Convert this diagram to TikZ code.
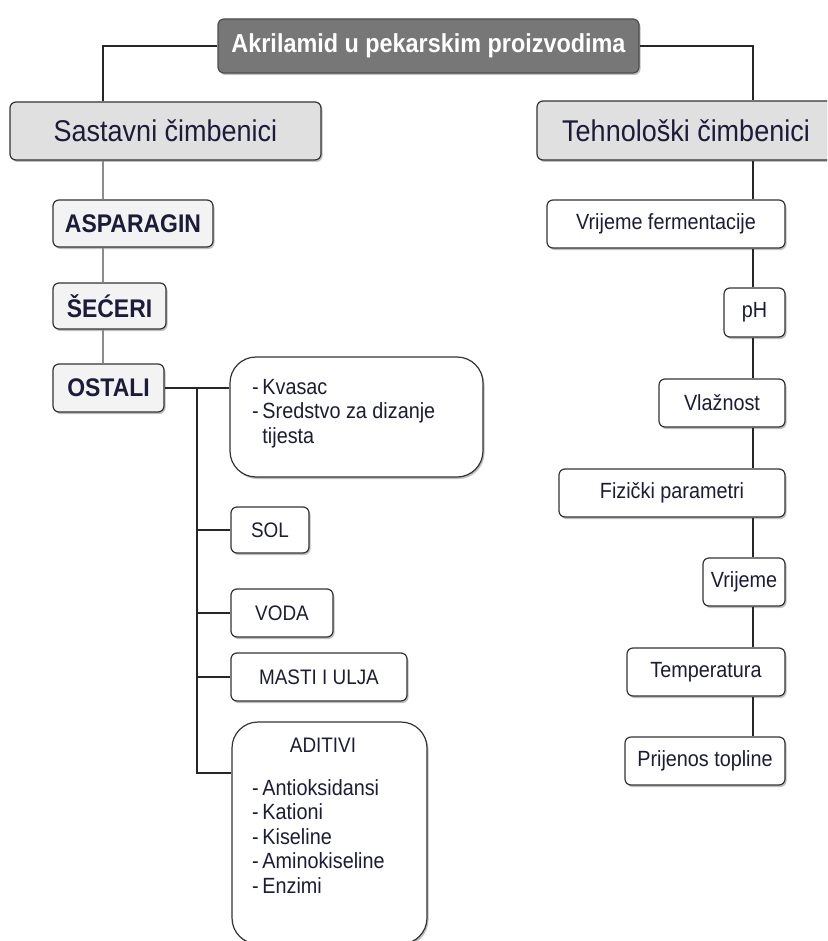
\documentclass[tikz,border=0pt]{standalone}
\usepackage{fontspec}
\setmainfont{Liberation Sans}[FakeStretch=0.9]
\usetikzlibrary{shadows}
\definecolor{txtc}{HTML}{1C1C3A}
\definecolor{titlefill}{HTML}{777777}
\definecolor{lvlfill}{HTML}{E0E0E0}
\definecolor{boldfill}{HTML}{F3F3F3}
\tikzset{
  box/.style={rectangle, rounded corners=6pt, draw=black!80, line width=1.2pt,
    inner sep=0pt, text=txtc, fill=white, align=center,
    drop shadow={shadow xshift=1.5pt, shadow yshift=-2pt, opacity=0.25, fill=black}},
  titlebox/.style={box, fill=titlefill, text=white, draw=black!70,
    font=\fontsize{26}{30}\selectfont\bfseries},
  lvlbox/.style={box, fill=lvlfill, font=\fontsize{30}{34}\selectfont},
  boldbox/.style={box, fill=boldfill, font=\fontsize{25.5}{29}\selectfont\bfseries},
  itembox/.style={box, font=\fontsize{22}{26}\selectfont},
  capbox/.style={box, font=\fontsize{21}{25}\selectfont},
  bigbox/.style={box, rounded corners=26pt},
  listtext/.style={text=txtc, inner sep=0pt, align=left, font=\fontsize{22}{24.5}\selectfont},
  thinline/.style={draw=black!85, line width=1.2pt},
  grayline/.style={draw=black!45, line width=2pt},
  branch/.style={draw=black!85, line width=2pt},
}
\begin{document}
\begin{tikzpicture}[x=1pt, y=-1pt]
\useasboundingbox (0,0) rectangle (827,941);
\clip (0,0) rectangle (827,941);
\fill[white] (0,0) rectangle (827,941);

\coordinate (lx) at (103,0);
\coordinate (tx) at (197,0);
\coordinate (rx) at (753,0);
\coordinate (adb) at (197,773);

% title and first level
\node[titlebox, minimum width=421pt, minimum height=54pt] (title) at (428.5,46) {Akrilamid u pekarskim proizvodima};
\node[lvlbox, minimum width=311pt, minimum height=58pt] (sast) at (165.5,131) {Sastavni čimbenici};
\node[lvlbox, minimum width=298pt, minimum height=59pt] (teh) at (686,130.5) {Tehnološki čimbenici};

% left column
\node[boldbox, minimum width=160pt, minimum height=47pt] (asp) at (133,223.5) {ASPARAGIN};
\node[boldbox, minimum width=113pt, minimum height=46pt] (sec) at (109.5,306) {ŠEĆERI};
\node[boldbox, minimum width=111pt, minimum height=48pt] (ost) at (108.5,388) {OSTALI};

\node[bigbox, minimum width=253pt, minimum height=120pt] (kva) at (356.5,417) {};
\node[listtext, anchor=north west] (kvat) at (252,379) {-\,Kvasac\\-\,Sredstvo za dizanje\\\phantom{-\,}tijesta};

\node[capbox, minimum width=78pt, minimum height=46pt] (sol) at (270,530) {SOL};
\node[capbox, minimum width=102pt, minimum height=48pt] (voda) at (282,613) {VODA};
\node[capbox, minimum width=176pt, minimum height=48pt] (masti) at (319,677) {MASTI I ULJA};
\node[bigbox, minimum width=195pt, minimum height=222pt] (adit) at (329.5,833) {};
\node[text=txtc, inner sep=0pt, anchor=base, font=\fontsize{21}{25}\selectfont] (aditt) at (323,752) {ADITIVI};
\node[listtext, anchor=north west] (aditl) at (252,779) {-\,Antioksidansi\\-\,Kationi\\-\,Kiseline\\-\,Aminokiseline\\-\,Enzimi};

% right column
\node[itembox, minimum width=238pt, minimum height=48pt] (vf) at (666,224) {Vrijeme fermentacije};
\node[itembox, minimum width=61pt, minimum height=49pt] (ph) at (754.5,312.5) {pH};
\node[itembox, minimum width=126pt, minimum height=48pt] (vl) at (722,403) {Vlažnost};
\node[itembox, minimum width=226pt, minimum height=48pt] (fiz) at (672,493) {Fizički parametri};
\node[itembox, minimum width=82pt, minimum height=48pt] (vr) at (744,582) {Vrijeme};
\node[itembox, minimum width=158pt, minimum height=48pt] (temp) at (706,672) {Temperatura};
\node[itembox, minimum width=160pt, minimum height=48pt] (prij) at (705,761) {Prijenos topline};

% connectors
\draw[thinline] (title.west) -| (sast.north -| lx);
\draw[thinline] (title.east) -| (teh.north -| rx);

\draw[grayline] (sast.south -| lx) -- (asp.north -| lx);
\draw[grayline] (asp.south -| lx) -- (sec.north -| lx);
\draw[grayline] (sec.south -| lx) -- (ost.north -| lx);

\draw[branch] (ost.east) -- (ost.east -| kva.west);
\draw[branch] (ost.east -| tx) -- (adb) -- (adb -| adit.west);
\draw[branch] (sol.west -| tx) -- (sol.west);
\draw[branch] (voda.west -| tx) -- (voda.west);
\draw[branch] (masti.west -| tx) -- (masti.west);

\draw[thinline] (teh.south -| rx) -- (vf.north -| rx);
\draw[thinline] (vf.south -| rx) -- (ph.north -| rx);
\draw[thinline] (ph.south -| rx) -- (vl.north -| rx);
\draw[thinline] (vl.south -| rx) -- (fiz.north -| rx);
\draw[thinline] (fiz.south -| rx) -- (vr.north -| rx);
\draw[thinline] (vr.south -| rx) -- (temp.north -| rx);
\draw[thinline] (temp.south -| rx) -- (prij.north -| rx);
\end{tikzpicture}
\end{document}
